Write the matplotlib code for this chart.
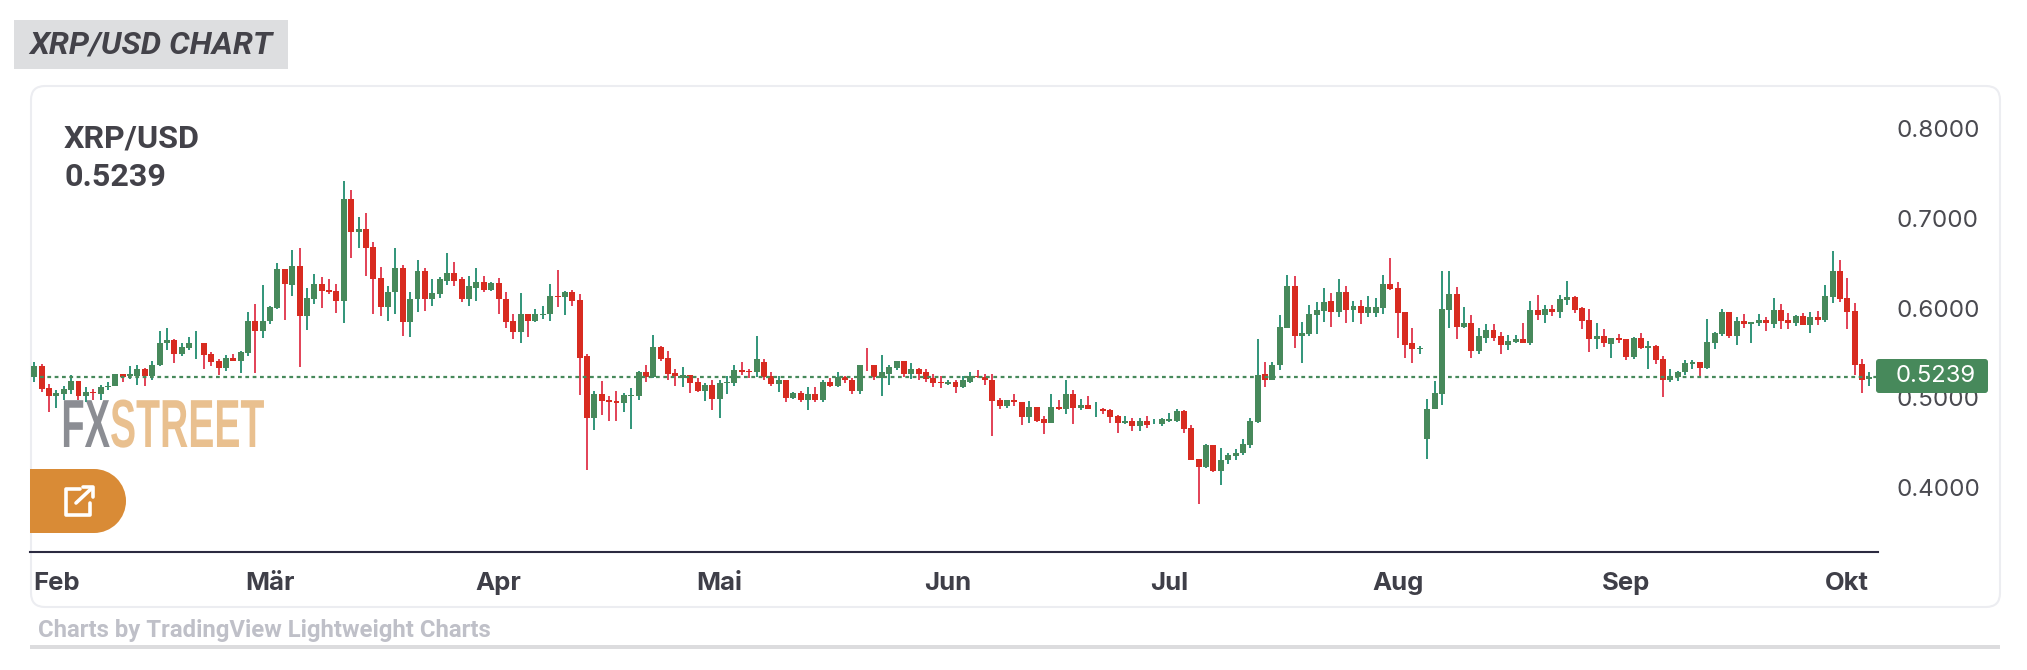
import matplotlib
matplotlib.use('Agg')
import matplotlib.pyplot as plt
import matplotlib.patheffects as pe
from matplotlib.patches import FancyBboxPatch, Rectangle, Circle
from matplotlib.transforms import Affine2D
import numpy as np
import pandas as pd

W, H = 2027, 670

pair = 'XRP/USD'
last_price = 0.5239
first_day = '2024-01-29'
month_starts = pd.date_range('2024-02-01', periods=9, freq='MS')
month_labels = ['Feb', 'Mär', 'Apr', 'Mai', 'Jun', 'Jul', 'Aug', 'Sep', 'Okt']
price_ticks = [0.4, 0.5, 0.6, 0.7, 0.8]

# daily candles
opens = [
    .5232, .5351, .5106, .5017, .5040, .5084, .5184, .5017, .5062, .5040,
    .5121, .5129, .5262, .5240, .5240, .5318, .5240, .5362, .5618, .5641,
    .5485, .5552, .5607, .5618, .5485, .5407, .5329, .5451, .5407, .5496,
    .5863, .5741, .5852, .5997, .6442, .6253, .6475, .5908, .6108, .6275,
    .6208, .6197, .6075, .7221, .6854, .6887, .6687, .6331, .6008, .6175,
    .6453, .5841, .6097, .6409, .6097, .6153, .6308, .6397, .6320, .6108,
    .6230, .6297, .6208, .6286, .6108, .5852, .5730, .5930, .5852, .5919,
    .5930, .6141, .6130, .6175, .6086, .5463, .4772, .5040, .4973, .4962,
    .4939, .5017, .5017, .5284, .5229, .5563, .5440, .5273, .5228, .5261,
    .5183, .5083, .5150, .4994, .5172, .5172, .5317, .5306, .5284, .5406,
    .5250, .5161, .5206, .5005, .5061, .4983, .5050, .4983, .5183, .5139,
    .5239, .5206, .5083, .5373, .5373, .5228, .5272, .5339, .5417, .5272,
    .5328, .5284, .5228, .5183, .5161, .5183, .5117, .5183, .5250, .5239,
    .5206, .4983, .4916, .4983, .4961, .4783, .4905, .4761, .4727, .4905,
    .4872, .5050, .4894, .4927, .4872, .4883, .4861, .4794, .4727, .4749,
    .4683, .4749, .4705, .4705, .4749, .4749, .4850, .4671, .4326, .4237,
    .4482, .4182, .4304, .4349, .4382, .4482, .4738, .5262, .5195, .5362,
    .5785, .6252, .5685, .5718, .5929, .5974, .6085, .5963, .6185, .5985,
    .6030, .5952, .5952, .6007, .6274, .6230, .5963, .5607, .5551, .4538,
    .4872, .5050, .5985, .6163, .5796, .5840, .5518, .5673, .5762, .5685,
    .5595, .5629, .5662, .5618, .5985, .5929, .5996, .5963, .6096, .6130,
    .6007, .5873, .5662, .5695, .5606, .5673, .5662, .5462, .5673, .5562,
    .5584, .5439, .5206, .5239, .5284, .5384, .5406, .5339, .5617, .5718,
    .5962, .5695, .5862, .5829, .5840, .5873, .5829, .5985, .5873, .5840,
    .5918, .5818, .5907, .5873, .6129, .6419, .6118, .5974, .5384, .5217,
]
highs = [
    .5396, .5381, .5151, .5092, .5129, .5255, .5184, .5121, .5099, .5143,
    .5181, .5270, .5270, .5351, .5370, .5329, .5414, .5741, .5785, .5652,
    .5618, .5674, .5741, .5618, .5507, .5429, .5474, .5485, .5518, .5963,
    .6052, .6253, .6030, .6498, .6442, .6653, .6676, .6230, .6386, .6342,
    .6320, .6275, .7421, .7321, .7021, .7065, .6742, .6464, .6242, .6676,
    .6486, .6186, .6542, .6453, .6320, .6353, .6620, .6520, .6342, .6364,
    .6453, .6364, .6297, .6331, .6175, .5930, .6164, .5930, .5986, .6019,
    .6264, .6420, .6197, .6208, .6153, .5485, .5073, .5184, .5017, .5073,
    .5051, .5106, .5296, .5362, .5707, .5574, .5518, .5318, .5350, .5261,
    .5228, .5172, .5195, .5206, .5250, .5362, .5406, .5328, .5695, .5439,
    .5295, .5250, .5206, .5072, .5083, .5117, .5128, .5195, .5228, .5295,
    .5250, .5228, .5373, .5562, .5373, .5484, .5373, .5417, .5417, .5395,
    .5339, .5328, .5272, .5250, .5206, .5195, .5250, .5295, .5317, .5272,
    .5272, .5005, .4983, .5050, .4961, .4972, .4905, .4805, .5050, .4983,
    .5195, .5094, .4994, .5017, .4950, .4894, .4883, .4816, .4794, .4772,
    .4772, .4805, .4761, .4772, .4838, .4883, .4861, .4694, .4326, .4493,
    .4482, .4438, .4382, .4427, .4538, .4772, .5662, .5406, .5406, .5929,
    .6375, .6363, .5851, .6041, .6074, .6230, .6174, .6330, .6252, .6085,
    .6096, .6141, .6119, .6375, .6564, .6297, .5963, .5774, .5584, .4994,
    .5184, .6419, .6419, .6241, .6018, .5929, .5785, .5829, .5829, .5740,
    .5707, .5707, .5840, .6085, .6152, .6041, .6041, .6152, .6308, .6141,
    .6018, .5996, .5840, .5773, .5673, .5718, .5662, .5684, .5729, .5640,
    .5595, .5473, .5328, .5306, .5428, .5428, .5406, .5885, .5740, .5996,
    .5962, .5907, .5940, .5851, .5940, .5907, .6118, .6051, .5951, .5929,
    .5951, .5962, .5974, .6263, .6641, .6541, .6341, .6063, .5439, .5295,
]
lows = [
    .5177, .5066, .4843, .4887, .4973, .5040, .4973, .4951, .4973, .4973,
    .5084, .5129, .5173, .5207, .5140, .5129, .5195, .5351, .5529, .5385,
    .5463, .5529, .5429, .5318, .5351, .5251, .5296, .5407, .5273, .5463,
    .5273, .5663, .5819, .5986, .5874, .6141, .5340, .5752, .6052, .5997,
    .6153, .5952, .5830, .6564, .6676, .6364, .5941, .5908, .5852, .5930,
    .5696, .5674, .5963, .5974, .6019, .6119, .6253, .6242, .6064, .6019,
    .6075, .6175, .6197, .5941, .5774, .5652, .5607, .5674, .5841, .5885,
    .5863, .6008, .5919, .6019, .5028, .4194, .4639, .4806, .4739, .4739,
    .4839, .4650, .4973, .5173, .5218, .5407, .5195, .5129, .5128, .5061,
    .5072, .4972, .4861, .4772, .5050, .5139, .5261, .5228, .5239, .5206,
    .5139, .5072, .4961, .4994, .4950, .4861, .4961, .4950, .5117, .5128,
    .5172, .5050, .5050, .5306, .5206, .5017, .5150, .5317, .5239, .5217,
    .5195, .5183, .5117, .5106, .5150, .5061, .5106, .5172, .5228, .5150,
    .4582, .4883, .4894, .4916, .4694, .4727, .4738, .4594, .4727, .4861,
    .4827, .4716, .4861, .4872, .4783, .4827, .4727, .4605, .4716, .4638,
    .4638, .4671, .4705, .4683, .4738, .4738, .4605, .4304, .3814, .4226,
    .4171, .4026, .4260, .4304, .4360, .4438, .4727, .5128, .5195, .5317,
    .5774, .5562, .5395, .5696, .5718, .5851, .5796, .5907, .5840, .5851,
    .5829, .5907, .5907, .5940, .6208, .5673, .5451, .5395, .5495, .4316,
    .4872, .4917, .5774, .5662, .5774, .5451, .5495, .5618, .5640, .5495,
    .5529, .5607, .5618, .5595, .5874, .5840, .5918, .5896, .6041, .5952,
    .5773, .5517, .5551, .5573, .5450, .5617, .5428, .5439, .5551, .5328,
    .5384, .5016, .5183, .5194, .5261, .5328, .5228, .5328, .5551, .5695,
    .5673, .5595, .5784, .5617, .5807, .5751, .5784, .5773, .5773, .5807,
    .5818, .5729, .5818, .5851, .6063, .6074, .5773, .5261, .5061, .5139,
]
closes = [
    .5351, .5095, .5017, .5051, .5095, .5184, .5017, .5062, .5051, .5121,
    .5136, .5262, .5232, .5262, .5318, .5240, .5373, .5618, .5641, .5485,
    .5563, .5618, .5618, .5474, .5396, .5329, .5451, .5407, .5507, .5863,
    .5741, .5863, .6008, .6442, .6264, .6475, .5908, .6119, .6275, .6197,
    .6186, .6075, .7221, .6854, .6887, .6676, .6320, .6008, .6186, .6453,
    .5841, .6108, .6409, .6097, .6164, .6320, .6397, .6308, .6108, .6242,
    .6297, .6208, .6286, .6097, .5841, .5730, .5930, .5852, .5930, .5941,
    .6141, .6130, .6175, .6075, .5451, .4772, .5040, .4962, .4951, .4939,
    .5028, .5028, .5284, .5229, .5563, .5429, .5262, .5240, .5261, .5172,
    .5083, .5150, .4994, .5172, .5183, .5317, .5295, .5284, .5439, .5239,
    .5161, .5206, .5005, .5061, .4983, .5050, .4983, .5183, .5139, .5239,
    .5195, .5083, .5373, .5362, .5239, .5284, .5350, .5417, .5272, .5328,
    .5272, .5217, .5172, .5172, .5183, .5117, .5195, .5250, .5239, .5195,
    .4972, .4916, .4983, .4950, .4783, .4905, .4749, .4727, .4905, .4872,
    .5050, .4894, .4927, .4872, .4883, .4850, .4783, .4727, .4749, .4683,
    .4749, .4694, .4716, .4761, .4761, .4850, .4660, .4315, .4237, .4482,
    .4182, .4315, .4360, .4393, .4493, .4749, .5261, .5195, .5373, .5796,
    .6252, .5685, .5729, .5940, .5985, .6074, .5963, .6185, .5985, .6030,
    .5952, .6018, .6018, .6274, .6219, .5952, .5595, .5551, .5562, .4883,
    .5061, .5996, .6163, .5796, .5840, .5518, .5685, .5762, .5673, .5595,
    .5640, .5662, .5618, .5985, .5929, .5996, .5963, .6107, .6130, .5985,
    .5862, .5662, .5695, .5617, .5673, .5651, .5462, .5673, .5562, .5584,
    .5428, .5206, .5250, .5295, .5395, .5406, .5339, .5629, .5729, .5962,
    .5695, .5862, .5829, .5851, .5873, .5840, .5985, .5862, .5840, .5918,
    .5818, .5907, .5873, .6141, .6419, .6107, .5962, .5373, .5206, .5239,
]

dates = pd.date_range(first_day, periods=len(opens), freq='D')
opens, highs, lows, closes = map(np.array, (opens, highs, lows, closes))
up = closes >= opens

BODY_UP, BODY_DOWN = '#47895b', '#d82b20'
WICK_UP, WICK_DOWN = '#35977c', '#e2465a'
DARK = '#434249'


class Squeeze(pe.AbstractPathEffect):
    # narrows the logo lettering, no condensed font around
    def __init__(self, sx, x0):
        super().__init__()
        self.tr = Affine2D().translate(-x0, 0).scale(sx, 1).translate(x0, 0)

    def draw_path(self, renderer, gc, tpath, affine, rgbFace=None):
        renderer.draw_path(gc, tpath, affine + self.tr, rgbFace)


def pixel_axes(zorder):
    a = fig.add_axes([0, 0, 1, 1], zorder=zorder)
    a.set_xlim(0, W)
    a.set_ylim(H, 0)
    a.axis('off')
    a.patch.set_alpha(0)
    return a


fig = plt.figure(figsize=(W / 100, H / 100), dpi=100, facecolor='white')
back = pixel_axes(0)
front = pixel_axes(2)

# title and card
back.add_patch(Rectangle((14, 20), 274, 49, fc='#dddee0', ec='none'))
back.text(29, 45, pair + ' CHART', family='Roboto', weight='bold', style='italic',
          fontsize=23.2, color=DARK, va='center')
back.add_patch(FancyBboxPatch((31, 86), 1969, 521, boxstyle='round,pad=0,rounding_size=14',
                              fc='none', ec='#ecedf1', lw=1.5))
back.add_patch(Rectangle((30, 645), 1970, 4, fc='#dcdcde', ec='none'))
back.text(38, 631, 'Charts by TradingView Lightweight Charts', family='Roboto', weight='bold',
          fontsize=17.2, color='#bfc0c8', va='center')
back.text(64, 139, pair, family='Roboto', weight='bold', fontsize=23.2, color=DARK, va='center')
back.text(64, 177, f'{last_price:.4f}', family='Roboto', weight='bold', fontsize=23.2, color=DARK,
          va='center')

# logo
back.text(110, 447, 'FX', family='Liberation Sans', weight='bold', fontsize=49, color='#8b8d93',
          ha='right', va='baseline', path_effects=[Squeeze(0.56, 110)])
back.text(110, 447, 'STREET', family='Liberation Sans', weight='bold', fontsize=49, color='#e9c08f',
          va='baseline', path_effects=[Squeeze(0.575, 110)])

# button
back.add_patch(Rectangle((30, 469), 64, 64, fc='#d98b36', ec='none'))
back.add_patch(Circle((94, 501), 32, fc='#d98b36', ec='none'))
icon = dict(color='white', lw=2.6, solid_joinstyle='round', solid_capstyle='round')
back.plot([80, 66, 66, 90, 90], [489, 489, 515, 515, 503], **icon)
back.plot([76, 92], [503, 488], **icon)
back.plot([83, 93, 93], [487, 487, 497], **icon)

# chart
ax = fig.add_axes([30 / W, (H - 552) / H, 1848 / W, 462 / H], zorder=1)
ax.patch.set_alpha(0)
ax.vlines(dates[up], lows[up], highs[up], color=WICK_UP, lw=1.44, zorder=2)
ax.vlines(dates[~up], lows[~up], highs[~up], color=WICK_DOWN, lw=1.44, zorder=2)
ax.bar(dates[up], (closes - opens)[up], bottom=opens[up], width=0.81, color=BODY_UP, zorder=3)
ax.bar(dates[~up], (opens - closes)[~up], bottom=closes[~up], width=0.81, color=BODY_DOWN, zorder=3)

day = pd.Timedelta(days=1)
ax.set_xlim(dates[0] - 0.58 * day, dates[0] + 250.17 * day)
ax.set_ylim(0.3285, 0.843)
ax.plot([dates[0] + 0.8 * day, dates[0] + 250.17 * day], [last_price, last_price], color=BODY_UP,
        lw=1.6, dashes=(1.7, 1.6), zorder=4)

for s in ['top', 'left', 'right']:
    ax.spines[s].set_visible(False)
ax.spines['bottom'].set_color('#2b2a40')
ax.spines['bottom'].set_linewidth(1.5)
ax.set_xticks(month_starts)
ax.set_xticklabels(month_labels, family='Inter', weight='bold', fontsize=18.5, color='#3f3f48')
ax.tick_params(axis='x', length=0, pad=14.5)
ax.yaxis.tick_right()
ax.set_yticks(price_ticks)
ax.set_yticklabels([f'{p:.4f}' for p in price_ticks], family='Inter', fontsize=17.4, color='#4a4a50')
ax.tick_params(axis='y', length=0, pad=13)

# last price tag
front.add_patch(FancyBboxPatch((1876, 359), 112, 34, boxstyle='round,pad=0,rounding_size=3',
                               fc=BODY_UP, ec='none'))
front.text(1936, 376, f'{last_price:.4f}', family='Inter', fontsize=17.2, color='white',
           ha='center', va='center')

fig.savefig('out.png', dpi=100)
